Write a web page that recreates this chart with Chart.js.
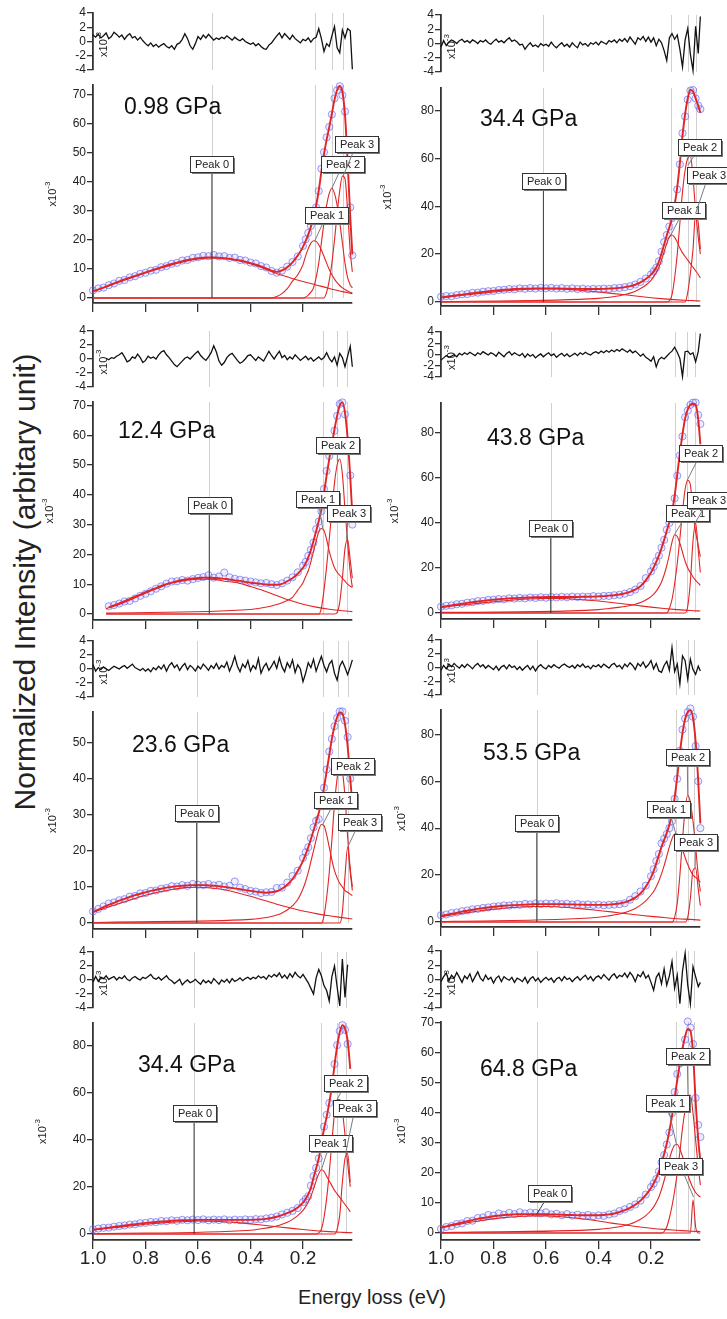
<!DOCTYPE html>
<html><head><meta charset="utf-8">
<script src="https://cdn.jsdelivr.net/npm/chart.js@4/dist/chart.umd.min.js"></script>
<style>
html,body{margin:0;padding:0;background:#fff}
#wrap{position:relative;width:727px;height:1319px;background:#fff;overflow:hidden;font-family:"Liberation Sans",Arial,sans-serif}
#wrap canvas{position:absolute}
.yt{position:absolute;left:25px;top:582px;transform:translate(-50%,-50%) rotate(-90deg);white-space:nowrap;font-size:30px;color:#222}
.xt{position:absolute;left:372px;top:1297px;transform:translate(-50%,-50%);white-space:nowrap;font-size:20px;color:#222}
</style></head><body>
<div id="wrap">
<div class="yt">Normalized Intensity (arbitary unit)</div>
<div class="xt">Energy loss (eV)</div>
</div>
<script>
// ---------- shared x grids (energy loss, eV) ----------
const E_DATA = [1.00,0.98,0.96,0.94,0.92,0.90,0.88,0.86,0.84,0.82,
0.80,0.78,0.76,0.74,0.72,0.70,0.68,0.66,0.64,0.62,
0.60,0.58,0.56,0.54,0.52,0.50,0.48,0.46,0.44,0.42,
0.40,0.38,0.36,0.34,0.32,0.30,0.28,0.26,0.24,0.22,
0.20,0.19,0.18,0.17,0.16,0.15,0.14,0.13,0.12,0.11,
0.10,0.09,0.08,0.07,0.06,0.05,0.04,0.03,0.02,0.012];
const E_P0 = [1.0,0.95,0.9,0.85,0.8,0.75,0.7,0.65,0.6,0.55,0.5,0.45,0.4,0.35,0.3,0.25,0.2,0.15,0.1,0.05,0.012];
const E_PK = [1.0,0.95,0.40,0.36,0.32,0.30,0.28,0.26,0.24,0.22,0.20,0.19,0.18,0.17,0.16,0.15,0.14,0.13,0.12,0.11,0.10,0.09,0.08,0.07,0.06,0.05,0.04,0.03,0.02,0.012];
const E_RES = [1.00,0.99,0.98,0.97,0.96,0.95,0.94,0.93,0.92,0.91,
0.90,0.89,0.88,0.87,0.86,0.85,0.84,0.83,0.82,0.81,
0.80,0.79,0.78,0.77,0.76,0.75,0.74,0.73,0.72,0.71,
0.70,0.69,0.68,0.67,0.66,0.65,0.64,0.63,0.62,0.61,
0.60,0.59,0.58,0.57,0.56,0.55,0.54,0.53,0.52,0.51,
0.50,0.49,0.48,0.47,0.46,0.45,0.44,0.43,0.42,0.41,
0.40,0.39,0.38,0.37,0.36,0.35,0.34,0.33,0.32,0.31,
0.30,0.29,0.28,0.27,0.26,0.25,0.24,0.23,0.22,0.21,
0.20,0.19,0.18,0.17,0.16,0.15,0.14,0.13,0.12,0.11,
0.10,0.09,0.08,0.07,0.06,0.05,0.04,0.03,0.02,0.012];

const X_TICKS = [1.0,0.8,0.6,0.4,0.2];
const RES_TICKS = [-4,-2,0,2,4];
const PRESSURES = {A:'0.98 GPa',B:'34.4 GPa',C:'12.4 GPa',D:'43.8 GPa',E:'23.6 GPa',F:'53.5 GPa',G:'34.4 GPa',H:'64.8 GPa'};
const PEAK_NAMES = ['Peak 0','Peak 1','Peak 2','Peak 3'];

// ---------- panel A : 0.98 GPa ----------
const DAT_A = [2.6,3.3,3.6,4.4,5.0,5.9,6.2,7.1,7.5,8.3, 8.7,9.4,9.7,10.6,11.0,11.8,12.1,12.9,13.1,13.8, 14.0,14.5,14.4,14.8,14.3,14.4,13.8,13.9,13.1,12.9, 12.2,11.9,11.0,10.5,9.3,8.7,9.4,10.8,12.4,14.3, 17.9,20.2,22.4,24.8,28.3,31.2,36.8,44.5,50.2,55.3, 58.9,63.2,68.7,71.5,72.9,69.8,64.2,null,31.2,14.7];
const FIT_A = [2.3,2.9,3.6,4.3,5.0,5.7,6.4,7.0,7.6,8.2, 8.8,9.4,10.0,10.6,11.2,11.7,12.2,12.7,13.1,13.4, 13.7,13.9,14.0,14.0,13.9,13.7,13.5,13.2,12.9,12.5, 12.0,11.5,10.9,10.2,9.4,9.0,9.5,10.6,12.3,14.6, 17.6,19.6,21.8,24.5,27.8,31.8,37.0,43.5,49.5,54.5, 58.8,63.5,68.2,71.6,73.0,71.0,63.0,47.0,28.0,15.0];
const P0_A = [2.3,3.9,5.5,7.1,8.6,10.1,11.4,12.6,13.4,13.8,13.6,12.9,11.8,10.2,8.4,7.0,5.7,4.5,3.3,2.2,1.5];
const P1_A = [0,0,0,0,0,0.5,1.5,3.2,5.8,8.0,11.5,14.5,17.0,18.9,19.7,19.5,18.3,16.5,14.3,12.0,9.8,8.0,6.5,5.3,4.3,3.5,2.9,2.4,2.0,1.7];
const P2_A = [0,0,0,0,0,0,0,0,0,0,0,0.3,1.0,2.0,3.5,7.0,12.0,19.0,26.0,32.0,36.0,37.8,36.0,32.0,26.0,19.0,12.0,7.0,4.5,3.5];
const P3_A = [0,0,0,0,0,0,0,0,0,0,0,0,0,0,0,0,0,0,0,2,6,12,20,29,37,42,41,30,16,9];
const RES_A = [0.9,0.6,1.0,0.5,0.8,1.2,0.4,0.7,1.3,1.0, 0.6,0.9,0.3,0.8,1.1,0.5,0.7,0.2,0.6,0.1, -0.3,-0.6,-0.2,-0.7,-0.4,-0.8,-0.5,-0.3,-0.7,-0.9, -0.6,-1.1,-0.4,-0.2,0.3,1.1,0.4,-0.6,-1.1,-0.3, 0.7,0.3,0.9,0.5,1.0,0.6,0.2,0.5,0.3,0.6, 0.4,0.8,0.5,0.2,0.6,0.3,0.1,0.4,0.0,-0.2, -0.4,-0.2,-0.6,-0.3,-0.7,-1.0,-1.1,-0.5,-0.2,0.3, 0.8,1.2,0.5,1.1,0.7,0.3,0.9,0.4,0.1,-0.2, 0.3,0.1,0.5,-0.1,0.4,0.6,1.8,0.4,-1.4,-0.3, -0.7,0.8,2.1,-0.9,-1.6,1.6,0.5,1.8,1.5,-3.9];
const POS_A = [0.547,0.154,0.091,0.049];
const YT_A = [0,10,20,30,40,50,60,70];

// ---------- panel B : 34.4 GPa (top right) ----------
const DAT_B = [2.2,2.5,2.4,2.9,3.2,3.3,3.8,3.9,4.3,4.5, 4.6,5.0,5.1,5.4,5.3,5.7,5.5,5.8,5.6,5.9, 5.7,5.9,5.6,5.8,5.5,5.7,5.4,5.6,5.3,5.5, 5.4,5.6,5.5,5.8,5.9,6.2,6.6,7.3,8.4,9.8, 11.5,12.8,14.3,17.0,21.0,25.0,28.0,31.5,35.0,40.0, 47.0,57.5,70.5,77.5,84.5,88.3,88.5,85.0,82.0,80.5];
const FIT_B = [1.9,2.2,2.5,2.8,3.1,3.4,3.7,4.0,4.2,4.5, 4.7,4.9,5.1,5.2,5.4,5.5,5.6,5.6,5.7,5.7, 5.7,5.7,5.7,5.6,5.6,5.5,5.5,5.5,5.4,5.4, 5.4,5.5,5.6,5.7,5.9,6.2,6.6,7.2,8.2,9.6, 11.4,12.7,14.4,16.8,20.2,24.0,27.8,31.2,35.0,40.5, 48.0,58.0,69.5,78.5,85.0,88.5,88.0,85.0,82.0,79.0];
const P0_B = [1.8,2.4,3.0,3.6,4.2,4.7,5.1,5.4,5.5,5.4,5.1,4.7,4.2,3.6,3.0,2.4,1.8,1.3,0.9,0.6,0.4];
const P1_B = [0.1,0.2,1.5,2.0,2.6,3.1,3.7,4.5,5.6,7.0,9.0,10.5,12.3,14.5,17.5,21.0,24.5,27.2,28.0,27.0,25.0,22.5,20.5,19.0,17.5,16.0,14.5,13.0,11.5,10.0];
const P2_B = [0,0,0,0,0,0,0,0,0,0,0,0,0,0,0,0,0,0.5,3,10,20,33,46,55,60,61,52,38,27,20];
const P3_B = [0,0,0,0,0,0,0,0,0,0,0,0,0,0,0,0,0,0,0,0,0,0,0,0,4,12,22,37,33,22];
const RES_B = [-0.5,0.4,-0.3,0.2,0.5,0.3,0.0,0.4,0.6,0.2, 0.4,0.1,0.5,0.3,0.0,0.4,0.2,0.5,0.1,-0.1, 0.3,0.6,0.2,0.4,0.1,0.5,0.8,0.3,0.5,0.2, -0.2,-0.1,-0.8,-0.3,0.1,-0.4,-0.2,-0.5,0.0,-0.3, -0.1,-0.4,0.2,-0.3,-0.6,-0.2,0.1,-0.4,-0.1,-0.5, 0.1,-0.3,-0.6,0.2,-0.2,0.0,-0.4,0.1,-0.1,0.2, -0.2,0.3,0.1,-0.1,0.4,0.2,0.5,0.1,0.6,0.3, 0.7,0.2,0.9,0.4,-0.1,0.8,0.5,1.0,0.3,0.9, 0.2,0.8,-0.3,0.6,0.1,-1.0,-2.4,0.8,1.4,0.6, 1.2,-0.8,-3.3,0.5,2.1,-1.5,-3.8,2.4,-1.4,3.8];
const POS_B = [0.611,0.124,0.06,0.027];
const YT_B = [0,20,40,60,80];

// ---------- panel C : 12.4 GPa ----------
const DAT_C = [null,null,null,2.6,3.0,3.5,4.2,4.4,5.2,6.1, 6.8,7.6,8.5,9.3,10.2,10.9,11.0,11.4,11.2,11.7, 12.1,12.4,13.0,12.2,12.6,13.9,12.3,11.8,11.5,11.2, 10.9,10.6,10.3,10.4,10.0,9.7,10.3,11.2,12.3,14.0, 16.2,17.5,19.5,21.6,24.0,28.5,31.0,34.5,42.0,48.0, 53.0,57.0,61.5,66.5,70.5,71.0,67.0,58.0,46.5,30.0];
const FIT_C = [null,null,null,2.2,2.9,3.6,4.3,5.0,5.8,6.5, 7.3,8.0,8.7,9.4,10.0,10.5,11.0,11.4,11.7,11.9, 12.1,12.2,12.2,12.1,12.0,11.8,11.6,11.3,11.1,10.8, 10.5,10.3,10.1,9.9,9.8,9.8,10.1,11.0,12.0,13.5, 15.5,17.0,19.0,21.5,24.5,27.8,31.2,35.0,40.5,46.5, 52.0,57.0,62.0,66.5,70.0,71.0,67.5,59.0,46.0,33.0];
const P0_C = [null,1.8,3.2,5.0,7.0,8.8,10.4,11.2,11.7,11.7,11.0,10.5,9.2,7.8,6.2,4.6,3.3,2.3,1.6,1.1,0.8];
const P1_C = [null,0.3,1.5,2.0,2.7,3.2,3.8,4.5,5.6,8.0,10.5,12.5,14.5,17.5,21.0,24.5,27.5,28.7,28.0,25.0,21.0,18.0,15.5,14.0,13.0,12.0,11.0,10.0,9.3,9.0];
const P2_C = [null,0,0,0,0,0,0,0,0,0,0,0,0,0,0,0,0,2,8,16,25,35,44,50,52,47,35,24,14,9];
const P3_C = [null,0,0,0,0,0,0,0,0,0,0,0,0,0,0,0,0,0,0,0,0,0,0,0.5,4,12,22,25,18,12];
const RES_C = [null,null,null,null,null,0.1,-0.1,0.2,0.1,0.4, 0.6,0.9,0.3,-0.4,-0.2,0.3,0.1,0.7,0.2,-0.5, -0.2,0.4,0.1,0.3,0.0,0.6,1.0,1.2,0.6,0.2, -0.3,-0.8,-1.1,-0.7,-0.3,0.1,0.3,0.0,0.4,0.8, 1.1,0.5,0.1,-0.2,0.3,0.9,1.9,1.0,-0.3,-0.9, -0.5,0.2,0.6,0.8,0.3,-0.2,-0.6,-0.4,0.0,0.5, 0.6,0.2,-0.2,0.3,0.0,-0.3,0.4,1.1,0.5,0.0, 0.6,1.1,0.2,0.5,-0.1,0.3,0.0,0.6,0.2,-0.2, 0.1,0.4,-0.1,0.2,-0.3,0.0,0.3,-0.1,0.2,0.9, 0.1,-0.4,0.3,-0.9,0.8,0.2,-1.1,0.4,1.8,-1.1];
const POS_C = [0.558,0.125,0.069,0.034];
const YT_C = [0,10,20,30,40,50,60,70];

// ---------- panel D : 43.8 GPa ----------
const DAT_D = [2.8,3.2,3.4,3.9,4.1,4.6,4.8,5.3,5.4,5.8, 5.9,6.2,6.1,6.5,6.4,6.7,6.5,6.9,6.7,7.0, 6.8,7.1,6.9,7.2,7.0,7.3,7.1,7.3,7.2,7.5, 7.3,7.6,7.6,7.9,8.1,8.6,9.3,10.4,12.0,15.5, 18.5,20.5,23.0,25.5,29.0,32.5,37.0,40.0,44.0,51.0, 61.0,70.0,78.5,87.0,90.0,92.5,93.5,93.5,88.0,84.0];
const FIT_D = [2.6,3.0,3.4,3.8,4.1,4.5,4.8,5.1,5.4,5.7, 5.9,6.1,6.3,6.5,6.6,6.7,6.8,6.9,7.0,7.0, 7.1,7.1,7.1,7.1,7.1,7.1,7.1,7.2,7.2,7.3, 7.4,7.5,7.7,7.9,8.2,8.7,9.4,10.4,11.9,14.5, 18.0,20.2,22.7,25.5,28.8,32.5,36.5,40.5,45.0,52.0, 61.5,71.0,79.5,86.5,90.5,92.5,93.0,92.5,86.0,75.0];
const P0_D = [2.5,3.2,3.8,4.4,5.0,5.5,6.0,6.3,6.5,6.5,6.2,5.8,5.3,4.7,4.0,3.3,2.6,2.0,1.5,1.1,0.9];
const P1_D = [0.3,0.3,1.5,2.0,2.6,2.9,3.3,3.9,4.7,5.8,7.3,8.4,9.7,11.5,13.8,17.0,21.0,26.0,31.5,34.8,34.0,31.0,27.0,23.0,20.0,18.0,16.0,14.5,13.3,12.3];
const P2_D = [0,0,0,0,0,0,0,0,0,0,0,0,0,0,0,0,0,2,6,13,22,33,45,55,59,57,45,36,30,25];
const P3_D = [0,0,0,0,0,0,0,0,0,0,0,0,0,0,0,0,0,0,0,0,0,0,0,0,3,14,32,40,28,18];
const RES_D = [-1.0,-0.6,-0.2,-0.5,-0.3,0.0,-0.4,0.2,-0.1,0.3, 0.0,0.4,0.1,-0.2,0.3,0.0,0.5,0.2,-0.1,0.3, 0.1,-0.3,0.4,0.0,-0.4,0.2,0.5,-0.1,0.3,0.0, -0.2,0.2,-0.5,0.1,-0.3,0.0,-0.6,-0.2,0.1,-0.4, 0.0,0.3,-0.2,0.1,-0.5,-0.1,0.2,-0.3,0.1,-0.4, -0.1,0.2,-0.2,0.3,0.0,0.4,0.1,-0.1,0.3,0.5, 0.2,0.6,0.3,0.7,0.4,0.8,0.5,0.9,0.6,1.0, 0.7,0.4,0.8,0.3,0.6,0.2,-0.3,0.1,-0.5,-0.8, -1.2,-0.4,-2.2,-0.9,-0.5,-0.8,-0.3,0.2,0.6,1.3, 0.4,-0.7,-3.9,0.5,0.6,0.0,0.3,-1.3,0.5,3.7];
const POS_D = [0.582,0.109,0.062,0.032];
const YT_D = [0,20,40,60,80];

// ---------- panel E : 23.6 GPa ----------
const DAT_E = [3.2,3.9,4.6,5.4,5.7,6.3,6.6,7.3,7.5,8.2, 8.3,8.9,9.0,9.5,9.7,10.2,10.1,10.5,10.3,10.8, 10.6,10.5,10.8,10.4,10.6,10.1,10.3,11.5,9.8,9.4, 8.9,8.7,8.3,8.5,8.6,9.7,9.8,11.2,13.0,14.5, 18.0,19.6,21.0,23.5,26.5,28.3,28.8,33.0,37.5,42.5, 47.5,51.0,54.5,56.8,58.6,58.6,56.0,51.5,40.0,null];
const FIT_E = [3.0,3.7,4.4,5.0,5.6,6.2,6.7,7.2,7.7,8.1, 8.5,8.9,9.2,9.5,9.8,10.0,10.2,10.3,10.4,10.5, 10.5,10.5,10.4,10.3,10.2,10.0,9.8,9.6,9.4,9.1, 8.9,8.7,8.5,8.4,8.5,8.8,9.5,10.6,12.2,14.4, 17.2,19.0,21.0,23.2,25.6,28.0,30.5,33.5,37.5,42.0, 46.5,51.0,54.5,57.0,58.3,58.0,55.0,49.0,40.0,33.0];
const P0_E = [3.0,4.2,5.4,6.6,7.7,8.6,9.3,9.8,9.9,9.7,9.2,8.4,7.4,6.3,5.2,4.2,3.3,2.6,2.0,1.5,1.1];
const P1_E = [0.1,0.2,1.0,1.3,1.8,2.2,2.8,3.6,4.8,6.5,9.5,11.5,14.0,17.0,20.0,23.0,25.8,27.3,27.0,24.5,21.0,17.5,14.5,12.5,11.0,10.0,9.0,8.5,8.0,7.6];
const P2_E = [0,0,0,0,0,0,0,0,0,0,0,0,0,0,0,0,0,0,2,7,14,23,33,40,44,42,35,24,15,10];
const P3_E = [0,0,0,0,0,0,0,0,0,0,0,0,0,0,0,0,0,0,0,0,0,0,0,0,0,3,13,21,14,9];
const RES_E = [0.6,-0.3,0.2,-0.1,0.3,0.0,-0.2,0.1,0.4,0.2, 0.0,0.3,0.5,0.1,0.4,0.7,0.2,0.0,-0.2,0.1, -0.3,0.0,-0.4,0.2,-0.1,0.4,0.0,0.6,-0.3,0.5, 0.9,0.2,0.6,-0.2,0.4,0.8,-0.1,0.5,0.2,-0.3, 0.4,0.0,0.7,0.3,-0.2,0.5,0.1,0.8,0.0,0.5, 0.2,1.0,-0.3,0.6,1.8,0.4,-0.4,0.7,0.2,1.2, -0.3,0.5,0.0,1.5,-0.6,0.3,0.8,-0.2,0.4,1.1, 0.1,1.6,0.3,-0.4,0.9,0.2,1.3,-0.5,0.6,0.0, -1.8,-0.6,0.9,0.2,1.4,-0.3,0.8,1.8,0.5,-0.4, 0.7,1.2,-0.6,-1.6,0.4,1.1,0.2,-0.8,0.3,1.3];
const POS_E = [0.605,0.125,0.065,0.03];
const YT_E = [0,10,20,30,40,50];

// ---------- panel F : 53.5 GPa ----------
const DAT_F = [2.9,3.2,3.8,4.1,4.6,4.9,5.4,5.6,6.0,6.2, 6.6,6.7,7.1,7.0,7.4,7.3,7.7,7.5,7.9,7.6, 7.9,7.7,8.0,7.6,7.8,7.5,7.7,7.3,7.5,7.2, 7.4,7.1,7.3,7.4,7.6,8.0,9.5,11.0,13.0,15.5, 19.5,22.5,26.0,29.0,33.5,35.5,37.5,40.0,43.0,52.5, 61.0,73.0,82.0,86.7,89.5,91.0,87.5,75.0,60.0,40.0];
const FIT_F = [2.6,3.0,3.5,3.9,4.4,4.8,5.2,5.6,5.9,6.2, 6.5,6.7,6.9,7.1,7.2,7.3,7.4,7.5,7.6,7.6, 7.6,7.6,7.6,7.6,7.5,7.5,7.4,7.4,7.3,7.3, 7.3,7.3,7.4,7.6,7.9,8.4,9.2,10.4,12.2,15.0, 19.0,21.7,25.0,28.5,32.0,35.0,38.0,41.5,46.0,53.0, 62.0,72.0,80.5,86.5,89.5,90.3,87.0,77.0,60.0,42.0];
const P0_F = [2.3,3.2,4.0,4.8,5.5,6.0,6.4,6.6,6.6,6.4,6.0,5.5,4.9,4.3,3.6,3.0,2.4,1.9,1.4,1.1,0.8];
const P1_F = [0.2,0.3,2.0,2.6,3.4,4.0,4.8,5.8,7.2,9.0,11.5,13.0,15.0,17.5,20.5,24.0,28.0,32.0,35.5,37.5,37.5,35.0,31.0,27.5,24.5,22.0,20.0,19.0,18.0,17.0];
const P2_F = [0,0,0,0,0,0,0,0,0,0,0,0,0,0,0,0,0,0,0,2,8,20,35,48,54,51,43,32,20,13];
const P3_F = [0,0,0,0,0,0,0,0,0,0,0,0,0,0,0,0,0,0,0,0,0,0,0,0,2,10,22,23,14,7];
const RES_F = [-0.4,0.3,-0.2,0.5,0.1,0.6,0.2,-0.1,0.4,0.0, 0.5,0.2,-0.2,0.3,0.6,0.1,0.4,-0.1,0.3,0.0, -0.3,0.2,-0.4,0.1,0.3,-0.2,0.4,0.0,0.2,-0.3, 0.1,-0.4,0.0,0.3,-0.3,0.2,-0.5,0.1,0.4,0.0, -0.2,0.3,0.0,0.4,0.1,-0.1,0.3,0.5,0.2,0.0, 0.3,-0.1,0.4,0.1,0.5,0.0,0.2,-0.2,0.3,0.1, 0.4,0.0,0.5,0.2,-0.1,0.4,0.6,0.1,0.3,-0.2, 0.5,0.1,0.7,0.3,-0.3,0.6,0.2,0.8,0.0,0.4, 1.0,-0.2,0.6,-0.5,-0.7,0.3,0.9,-0.4,2.9,-0.6, 0.5,-2.4,1.7,1.0,-1.7,1.2,-0.3,-1.0,0.2,-0.5];
const POS_F = [0.636,0.105,0.06,0.035];
const YT_F = [0,20,40,60,80];

// ---------- panel G : 34.4 GPa (bottom left) ----------
const DAT_G = [2.0,2.3,2.6,2.7,3.1,3.4,3.6,4.0,4.1,4.6, 4.7,5.1,5.0,5.5,5.4,5.8,5.6,6.0,5.8,6.1, 5.9,6.2,5.8,6.1,5.9,6.2,5.8,6.1,5.9,6.2, 6.0,6.3,6.2,6.6,6.9,7.4,8.3,9.0,9.8,11.0, 13.5,14.8,16.0,20.5,24.5,28.0,32.0,38.5,45.5,50.5, 55.5,62.5,72.0,80.0,86.0,88.5,86.5,80.5,null,null];
const FIT_G = [1.8,2.1,2.4,2.7,3.0,3.3,3.6,3.9,4.2,4.4, 4.7,4.9,5.1,5.3,5.4,5.6,5.7,5.8,5.9,5.9, 6.0,6.0,6.0,6.0,6.0,6.0,6.0,6.0,6.0,6.0, 6.0,6.1,6.2,6.4,6.8,7.3,8.0,8.8,9.8,11.2, 13.3,14.8,16.8,19.5,23.8,27.8,32.0,38.0,44.5,49.5, 55.5,62.5,71.5,79.5,85.5,88.5,87.0,82.0,70.0,null];
const P0_G = [1.7,2.3,2.9,3.5,4.1,4.6,5.0,5.3,5.5,5.4,5.2,4.8,4.3,3.7,3.1,2.5,1.9,1.4,1.0,0.7,0.5];
const P1_G = [0.1,0.2,1.6,2.2,2.9,3.4,4.1,5.0,6.2,7.8,10.0,11.6,13.5,16.0,19.0,22.5,25.5,27.2,26.5,24.5,22.5,20.5,18.5,17.0,15.5,14.0,12.5,11.0,9.5,null];
const P2_G = [0,0,0,0,0,0,0,0,0,0,0,0,0,0,0,0,0.5,2,7,15,26,39,51,57,57,52,42,30,20,null];
const P3_G = [0,0,0,0,0,0,0,0,0,0,0,0,0,0,0,0,0,0,0,0,0,0,0,2,8,22,32,34,22,null];
const RES_G = [-0.3,0.5,-0.2,0.4,0.2,0.6,0.1,0.3,0.5,0.0, 0.4,0.2,0.6,0.1,-0.1,0.3,0.5,0.2,0.0,0.4, 0.2,0.5,0.8,0.3,0.1,0.4,0.0,0.3,0.6,0.1, -0.1,-0.5,-0.2,0.1,-0.7,-0.3,0.0,-0.4,-0.2,0.1, -0.3,-0.6,0.0,-0.4,-0.1,-0.5,0.2,-0.2,-0.6,0.0, -0.3,0.1,-0.4,0.2,-0.2,0.0,0.3,-0.1,0.2,0.4, 0.1,0.4,0.2,0.6,0.3,0.5,0.1,0.7,0.4,0.8, 0.5,1.0,0.3,0.7,0.2,0.9,0.4,1.1,0.6,0.3, 0.8,0.2,-0.4,-1.2,-2.0,0.3,1.5,0.6,-0.8,-1.5, -3.0,0.5,2.0,-1.0,-3.7,3.0,-2.5,2.2,null,null];
const POS_G = [0.615,0.13,0.072,0.038];
const YT_G = [0,20,40,60,80];

// ---------- panel H : 64.8 GPa ----------
const DAT_H = [1.4,2.0,2.3,3.0,3.2,4.0,4.1,5.0,5.2,6.0, 5.8,6.5,6.1,6.7,6.3,6.9,6.5,6.8,6.7,6.5, 6.9,6.2,6.4,5.9,6.3,5.8,6.1,5.7,6.0,5.6, 5.9,5.7,6.2,6.5,7.3,7.9,8.7,9.5,10.8,12.8, 15.3,16.5,18.0,20.5,23.5,26.0,29.5,33.5,40.0,47.0, 53.0,56.5,60.5,64.5,70.5,68.5,63.0,45.0,36.0,32.0];
const FIT_H = [1.8,2.2,2.7,3.1,3.5,3.9,4.3,4.7,5.0,5.3, 5.6,5.8,6.0,6.1,6.2,6.3,6.3,6.3,6.3,6.3, 6.3,6.2,6.2,6.1,6.0,6.0,5.9,5.9,5.9,5.9, 5.9,6.0,6.2,6.5,7.0,7.6,8.4,9.4,10.8,12.6, 15.0,16.5,18.3,20.5,23.2,26.3,29.8,34.0,39.0,45.0, 51.0,56.5,61.5,65.5,68.0,67.5,60.0,44.0,31.0,24.0];
const P0_H = [1.8,2.6,3.4,4.1,4.7,5.2,5.5,5.7,5.7,5.5,5.1,4.6,4.0,3.3,2.7,2.1,1.6,1.2,0.9,0.6,0.5];
const P1_H = [0.1,0.2,1.2,1.6,2.1,2.5,3.0,3.7,4.6,5.8,7.5,8.7,10.2,12.0,14.5,17.5,21.0,24.5,27.5,29.3,29.5,28.0,25.5,22.5,19.5,17.0,15.0,13.5,12.5,12.0];
const P2_H = [0,0,0,0,0,0,0,0,0,0,0,0,0,0,0,0.5,2,5,9,14,20,27,35,41,45,46,40,31,22,16];
const P3_H = [0,0,0,0,0,0,0,0,0,0,0,0,0,0,0,0,0,0,0,0,0,0,0,0,0,0,11,2,0,0];
const RES_H = [-0.3,0.4,0.9,-0.2,0.6,0.2,1.0,0.3,-0.4,0.5, 0.1,0.8,-0.3,0.4,1.1,0.2,-0.2,0.6,0.0,0.3, -0.5,0.2,0.5,-0.3,0.4,0.1,-0.1,0.3,-0.4,0.2, 0.0,-0.3,0.3,-0.5,0.1,0.4,-0.2,0.2,-0.4,0.0, 0.3,-0.1,0.2,-0.4,0.1,0.3,-0.2,0.4,0.0,0.2, -0.3,0.1,0.4,-0.1,0.3,0.6,0.0,0.4,-0.2,0.3, 0.5,0.1,0.7,0.3,-0.1,0.5,0.8,0.2,0.6,0.4, 0.9,0.3,1.0,0.5,-0.3,0.7,0.4,1.1,0.2,0.6, -0.4,-1.5,0.3,0.9,-0.6,1.5,-0.8,0.5,2.5,-1.2, 0.6,-3.4,1.2,3.7,-0.8,-3.4,1.8,0.4,-1.0,-0.4];
const POS_H = [0.636,0.103,0.059,0.038];
const YT_H = [0,10,20,30,40,50,60,70];

// ---------- annotation placement (label box centre -> leader target), layout only ----------
const ANN = {
 A:[[0.547,46,0.547,0,1],[0.11,28.6,0.155,19.7,0],[0.048,46,0.09,37.8,0],[-0.004,53,0.047,42,0]],
 B:[[0.61,50.5,0.61,0,1],[0.076,38.3,0.124,28,0],[0.014,64.7,0.06,57,0],[-0.02,53.2,0.03,37,0]],
 C:[[0.557,36.7,0.557,0,1],[0.143,38.6,0.125,28.7,0],[0.069,56.8,0.069,51,0],[0.027,33.9,0.035,25,0]],
 D:[[0.582,37.8,0.582,0,1],[0.061,44.4,0.11,35,0],[0.01,71,0.062,59,0],[-0.02,50.4,0.032,40,0]],
 E:[[0.605,30.5,0.605,0,1],[0.075,34.2,0.125,27.3,0],[0.013,43.6,0.06,44,0],[-0.015,27.9,0.03,21,0]],
 F:[[0.635,42.3,0.635,0,1],[0.132,48,0.105,37.5,0],[0.062,70.3,0.06,54,0],[0.03,34,0.032,23,0]],
 G:[[0.615,51.4,0.615,0,1],[0.097,38.6,0.13,27.2,0],[0.037,64,0.07,57,0],[0.002,53.2,0.038,34,0]],
 H:[[0.585,13.4,0.636,6.2,1],[0.138,43.2,0.103,29.5,0],[0.062,59,0.059,46,0],[0.088,22.5,0.038,12,0]]
};

// ---------- page geometry (pixels) ----------
const COL_LEFT = [93, 441];
const AREA_W = 259;
const PX_PER_EV = 262.5;
const X_MAX = 1.0;
const X_MIN = 1.0 - AREA_W / PX_PER_EV;
const LAY = {
 A:{col:0,res:[13,70],  main:[85,303],  zero:298, k:2.905,lab:[31,23],x10:-40,bottom:false},
 B:{col:1,res:[15,72],  main:[88,306],  zero:302, k:2.395,lab:[39,32],x10:-53,bottom:false},
 C:{col:0,res:[331,387],main:[402,620], zero:614, k:2.98, lab:[25,30],x10:-43,bottom:false},
 D:{col:1,res:[332,377],main:[403,619], zero:613, k:2.25, lab:[46,36],x10:-46,bottom:false},
 E:{col:0,res:[641,697],main:[712,929], zero:923, k:3.61, lab:[39,34],x10:-40,bottom:false},
 F:{col:1,res:[640,695],main:[710,927], zero:922, k:2.346,lab:[42,44],x10:-39,bottom:false},
 G:{col:0,res:[952,1008],main:[1023,1240],zero:1234,k:2.36,lab:[45,43],x10:-50,bottom:true},
 H:{col:1,res:[951,1008],main:[1022,1240],zero:1233,k:3.0, lab:[39,48],x10:-39,bottom:true}
};

const PANELS = {
 A:{dat:DAT_A,fit:FIT_A,p0:P0_A,p1:P1_A,p2:P2_A,p3:P3_A,res:RES_A,pos:POS_A,yt:YT_A},
 B:{dat:DAT_B,fit:FIT_B,p0:P0_B,p1:P1_B,p2:P2_B,p3:P3_B,res:RES_B,pos:POS_B,yt:YT_B},
 C:{dat:DAT_C,fit:FIT_C,p0:P0_C,p1:P1_C,p2:P2_C,p3:P3_C,res:RES_C,pos:POS_C,yt:YT_C},
 D:{dat:DAT_D,fit:FIT_D,p0:P0_D,p1:P1_D,p2:P2_D,p3:P3_D,res:RES_D,pos:POS_D,yt:YT_D},
 E:{dat:DAT_E,fit:FIT_E,p0:P0_E,p1:P1_E,p2:P2_E,p3:P3_E,res:RES_E,pos:POS_E,yt:YT_E},
 F:{dat:DAT_F,fit:FIT_F,p0:P0_F,p1:P1_F,p2:P2_F,p3:P3_F,res:RES_F,pos:POS_F,yt:YT_F},
 G:{dat:DAT_G,fit:FIT_G,p0:P0_G,p1:P1_G,p2:P2_G,p3:P3_G,res:RES_G,pos:POS_G,yt:YT_G},
 H:{dat:DAT_H,fit:FIT_H,p0:P0_H,p1:P1_H,p2:P2_H,p3:P3_H,res:RES_H,pos:POS_H,yt:YT_H}
};

// ---------- rendering ----------
const FONT = '"Liberation Sans", Arial, Helvetica, sans-serif';
Chart.defaults.font.family = FONT;
Chart.defaults.color = '#222';
const RED = 'rgb(226,36,36)';
const YW = 70, PR = 48, PT = 22;

function pts(xs, ys){ return xs.map((x,i)=>({x:x, y:ys[i]})); }

function addCanvas(left, top, w, h){
  const c = document.createElement('canvas');
  c.width = w; c.height = h;
  c.style.left = left+'px'; c.style.top = top+'px';
  c.style.width = w+'px'; c.style.height = h+'px';
  document.getElementById('wrap').appendChild(c);
  return c;
}

function drawX10(ctx, cx, cy){
  ctx.save();
  ctx.translate(cx, cy); ctx.rotate(-Math.PI/2);
  ctx.fillStyle = '#222'; ctx.textBaseline = 'middle'; ctx.textAlign = 'left';
  ctx.font = '11px ' + FONT; const w1 = ctx.measureText('x10').width;
  ctx.font = '8px ' + FONT; const w2 = ctx.measureText('-3').width;
  const sx = -(w1 + w2)/2;
  ctx.font = '11px ' + FONT; ctx.fillText('x10', sx, 0);
  ctx.font = '8px ' + FONT; ctx.fillText('-3', sx + w1, -5);
  ctx.restore();
}

function makeDeco(key, isMain){
  const P = PANELS[key], L = LAY[key];
  return {
    id: 'deco',
    beforeDatasetsDraw(chart){
      const ctx = chart.ctx, a = chart.chartArea, x = chart.scales.x, y = chart.scales.y;
      ctx.save();
      ctx.strokeStyle = '#d0d0d0'; ctx.lineWidth = 1;
      const yb = isMain ? y.getPixelForValue(0) : a.bottom;
      P.pos.forEach(e => {
        const px = Math.round(x.getPixelForValue(e)) + 0.5;
        ctx.beginPath(); ctx.moveTo(px, a.top); ctx.lineTo(px, yb); ctx.stroke();
      });
      if (isMain) drawX10(ctx, a.left + L.x10, (a.top + a.bottom)/2);
      else drawX10(ctx, a.left + 11, (a.top + a.bottom)/2 + 3);
      ctx.restore();
    },
    afterDatasetsDraw(chart){
      if (!isMain) return;
      const ctx = chart.ctx, a = chart.chartArea, x = chart.scales.x, y = chart.scales.y;
      ctx.save();
      ctx.fillStyle = '#111'; ctx.font = '23px ' + FONT;
      ctx.textAlign = 'left'; ctx.textBaseline = 'middle';
      ctx.fillText(PRESSURES[key], a.left + L.lab[0], a.top + L.lab[1]);
      ctx.font = '11px ' + FONT;
      ANN[key].forEach((an, i) => {
        const t = PEAK_NAMES[i];
        const cx = x.getPixelForValue(an[0]), cy = y.getPixelForValue(an[1]);
        const tx = x.getPixelForValue(an[2]), ty = y.getPixelForValue(an[3]);
        const w = Math.round(ctx.measureText(t).width + 9), h = 16;
        ctx.strokeStyle = an[4] ? '#3a3a3a' : '#7a7a7a'; ctx.lineWidth = 1;
        ctx.beginPath(); ctx.moveTo(cx, cy); ctx.lineTo(tx, ty); ctx.stroke();
        const bx = Math.round(cx - w/2) + 0.5, by = Math.round(cy - h/2) + 0.5;
        ctx.fillStyle = '#777'; ctx.fillRect(bx + 1.5, by + 1.5, w, h);
        ctx.fillStyle = '#fff'; ctx.fillRect(bx, by, w, h);
        ctx.strokeStyle = '#333'; ctx.strokeRect(bx, by, w, h);
        ctx.fillStyle = '#222'; ctx.textAlign = 'center'; ctx.textBaseline = 'middle';
        ctx.fillText(t, bx + w/2, by + h/2 + 0.5);
      });
      ctx.restore();
    }
  };
}

function yScale(min, max, ticks){
  return {
    type:'linear', min:min, max:max,
    afterBuildTicks: s => { s.ticks = ticks.map(v => ({value:v})); },
    afterFit: s => { s.width = YW; },
    grid:{drawOnChartArea:false, drawTicks:true, tickLength:6, color:'#333', lineWidth:1.3},
    border:{display:true, color:'#333', width:1.8},
    ticks:{autoSkip:false, font:{size:12}, color:'#222', padding:1, callback: v => String(v)}
  };
}

function buildPanel(key){
  const P = PANELS[key], L = LAY[key];
  const left = COL_LEFT[L.col];

  // residual chart
  const rt = L.res[0], rb = L.res[1];
  const rc = addCanvas(left - YW, rt - 10, YW + AREA_W + PR, (rb - rt) + 20);
  new Chart(rc, {
    type:'line',
    data:{datasets:[{data:pts(E_RES, P.res), borderColor:'#111', borderWidth:1.3, pointRadius:0, tension:0, clip:false, spanGaps:false}]},
    options:{
      responsive:false, animation:false, devicePixelRatio:1,
      layout:{padding:{left:0, right:PR, top:10, bottom:10}},
      plugins:{legend:{display:false}, tooltip:{enabled:false}},
      scales:{
        x:{type:'linear', reverse:true, min:X_MIN, max:X_MAX, display:false},
        y:yScale(-4, 4, RES_TICKS)
      }
    },
    plugins:[makeDeco(key, false)]
  });

  // main chart
  const mt = L.main[0], mb = L.main[1];
  const XH = L.bottom ? 44 : 12;
  const mc = addCanvas(left - YW, mt - PT, YW + AREA_W + PR, (mb - mt) + PT + XH);
  const comp = {borderColor:RED, borderWidth:1.1, pointRadius:0, cubicInterpolationMode:'monotone', clip:false};
  new Chart(mc, {
    type:'line',
    data:{datasets:[
      {data:pts(E_DATA, P.fit), borderColor:RED, borderWidth:1.9, pointRadius:0, cubicInterpolationMode:'monotone', clip:false},
      Object.assign({data:pts(E_P0, P.p0)}, comp),
      Object.assign({data:pts(E_PK, P.p1)}, comp),
      Object.assign({data:pts(E_PK, P.p2)}, comp),
      Object.assign({data:pts(E_PK, P.p3)}, comp),
      {data:pts(E_DATA, P.dat), showLine:false, pointRadius:3.6, pointBorderWidth:1,
       pointBorderColor:'rgba(95,95,240,0.62)', pointBackgroundColor:'rgba(140,140,255,0.16)', clip:false}
    ]},
    options:{
      responsive:false, animation:false, devicePixelRatio:1,
      layout:{padding:{left:0, right:PR, top:PT, bottom:0}},
      plugins:{legend:{display:false}, tooltip:{enabled:false}},
      scales:{
        x:{
          type:'linear', reverse:true, min:X_MIN, max:X_MAX,
          afterBuildTicks: s => { s.ticks = X_TICKS.map(v => ({value:v})); },
          afterFit: s => { s.height = XH; },
          grid:{drawOnChartArea:false, drawTicks:true, tickLength:9, color:'#333', lineWidth:1.3},
          border:{display:true, color:'#333', width:1.8},
          ticks:{display:L.bottom, autoSkip:false, maxRotation:0, font:{size:19}, color:'#222', padding:-2,
                 callback: v => Number(v).toFixed(1)}
        },
        y:yScale((L.zero - mb)/L.k, (L.zero - mt)/L.k, P.yt)
      }
    },
    plugins:[makeDeco(key, true)]
  });
}

['A','B','C','D','E','F','G','H'].forEach(buildPanel);
</script>
</body></html>
